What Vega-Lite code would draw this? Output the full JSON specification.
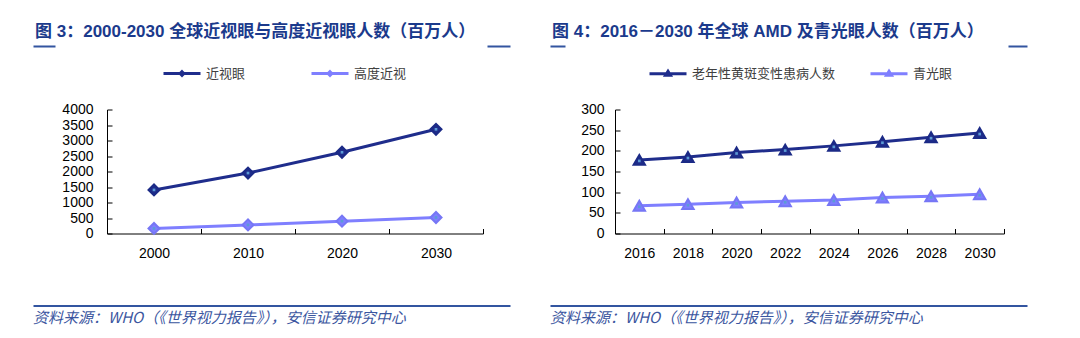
{
  "$schema": "https://vega.github.io/schema/vega-lite/v6.json",
  "padding": {"left": 33, "top": 22, "right": 0, "bottom": 0},
  "background": "white",
  "config": {
    "view": {"stroke": null},
    "axis": {"labelFont": "Liberation Sans", "labelFontSize": 14, "labelColor": "#000000", "domainColor": "#000000", "tickColor": "#000000", "domainWidth": 1, "tickWidth": 1, "grid": false, "title": null},
    "legend": {"labelFont": "Noto Sans CJK SC", "labelFontSize": 13, "labelColor": "#404040"}
  },
  "datasets": {
    "myopia": [
      {"year": "2000", "type": "近视眼", "value": 1406},
      {"year": "2010", "type": "近视眼", "value": 1950},
      {"year": "2020", "type": "近视眼", "value": 2620},
      {"year": "2030", "type": "近视眼", "value": 3361},
      {"year": "2000", "type": "高度近视", "value": 163},
      {"year": "2010", "type": "高度近视", "value": 277},
      {"year": "2020", "type": "高度近视", "value": 399},
      {"year": "2030", "type": "高度近视", "value": 517}
    ],
    "amd": [
      {"year": "2016", "type": "老年性黄斑变性患病人数", "value": 178},
      {"year": "2018", "type": "老年性黄斑变性患病人数", "value": 185},
      {"year": "2020", "type": "老年性黄斑变性患病人数", "value": 196},
      {"year": "2022", "type": "老年性黄斑变性患病人数", "value": 203},
      {"year": "2024", "type": "老年性黄斑变性患病人数", "value": 212},
      {"year": "2026", "type": "老年性黄斑变性患病人数", "value": 222},
      {"year": "2028", "type": "老年性黄斑变性患病人数", "value": 233},
      {"year": "2030", "type": "老年性黄斑变性患病人数", "value": 243},
      {"year": "2016", "type": "青光眼", "value": 67},
      {"year": "2018", "type": "青光眼", "value": 71},
      {"year": "2020", "type": "青光眼", "value": 75},
      {"year": "2022", "type": "青光眼", "value": 78},
      {"year": "2024", "type": "青光眼", "value": 81},
      {"year": "2026", "type": "青光眼", "value": 87},
      {"year": "2028", "type": "青光眼", "value": 90},
      {"year": "2030", "type": "青光眼", "value": 95}
    ],
    "footer": [{"a": 0}, {"a": 1}]
  },
  "resolve": {"scale": {"color": "independent", "x": "independent", "y": "independent"}, "legend": {"color": "independent"}},
  "spacing": 1.5,
  "vconcat": [
    {
      "spacing": -34,
      "resolve": {"scale": {"x": "independent"}},
      "hconcat": [
        {
          "width": 403,
          "height": 1,
          "data": {"name": "footer"},
          "mark": {"type": "text", "text": ""},
          "encoding": {"x": {"field": "a", "type": "quantitative", "scale": {"range": [-74, 403], "nice": false, "zero": false}, "axis": {"orient": "top", "domainColor": "#3355a0", "domainWidth": 2, "domainDash": [22, 432, 23, 200], "ticks": false, "labels": false, "title": null}}},
          "title": {"text": "图 3：2000-2030 全球近视眼与高度近视眼人数（百万人）", "anchor": "start", "frame": "bounds", "fontSize": 17, "fontWeight": "bold", "color": "#1b3a8c", "font": "Liberation Sans, Noto Sans CJK SC", "offset": 0, "dx": 2}
        },
        {
          "width": 413,
          "height": 1,
          "data": {"name": "footer"},
          "mark": {"type": "text", "text": ""},
          "encoding": {"x": {"field": "a", "type": "quantitative", "scale": {"range": [-64, 413], "nice": false, "zero": false}, "axis": {"orient": "top", "domainColor": "#3355a0", "domainWidth": 2, "domainDash": [15, 443, 19, 200], "ticks": false, "labels": false, "title": null}}},
          "title": {"text": "图 4：2016－2030 年全球 AMD 及青光眼人数（百万人）", "anchor": "start", "frame": "bounds", "fontSize": 17, "fontWeight": "bold", "color": "#1b3a8c", "font": "Liberation Sans, Noto Sans CJK SC", "offset": 0, "dx": 2}
        }
      ]
    },
    {
      "spacing": 39,
      "resolve": {"scale": {"color": "independent", "x": "independent", "y": "independent"}, "legend": {"color": "independent"}},
      "vconcat": [
        {
          "spacing": 67,
          "resolve": {"scale": {"color": "independent", "x": "independent", "y": "independent"}, "legend": {"color": "independent"}},
          "hconcat": [
            {
              "width": 376,
              "height": 124,
              "data": {"name": "myopia"},
              "encoding": {
                "x": {"field": "year", "type": "ordinal", "bandPosition": 0.5, "scale": {"type": "band", "paddingInner": 0, "paddingOuter": 0},
                  "axis": {"labelAngle": 0, "tickBand": "extent", "tickSize": -5, "labelPadding": 18}},
                "y": {"field": "value", "type": "quantitative", "scale": {"domain": [0, 4000], "nice": false},
                  "axis": {"values": [0, 500, 1000, 1500, 2000, 2500, 3000, 3500, 4000], "format": "d", "tickSize": -5, "labelPadding": 19, "minExtent": 74, "maxExtent": 74}},
                "color": {"field": "type", "type": "nominal", "sort": ["近视眼", "高度近视"],
                  "scale": {"domain": ["近视眼", "高度近视"], "range": ["#1f2d8c", "#7f7fff"]},
                  "legend": {"orient": "none", "legendX": 55, "legendY": -56, "direction": "horizontal", "title": null,
                    "symbolType": "M-1,0H1M0,-0.1L0.1,0L0,0.1L-0.1,0Z", "symbolSize": 1369, "symbolStrokeWidth": 3, "columnPadding": 59, "labelOffset": 4,
                    "encode": {"symbols": {"update": {"stroke": {"signal": "datum.value === '近视眼' ? '#1f2d8c' : '#7f7fff'"}, "fill": {"signal": "datum.value === '近视眼' ? '#1f2d8c' : '#7f7fff'"}, "opacity": {"value": 1}}}}}}
              },
              "layer": [
                {"mark": {"type": "line", "strokeWidth": 3}},
                {"mark": {"type": "point", "shape": "diamond", "filled": true, "size": 121, "strokeWidth": 2, "opacity": 1}, "encoding": {"stroke": {"field": "type", "type": "nominal", "scale": {"domain": ["近视眼", "高度近视"], "range": ["#1b2a86", "#7676f5"]}, "legend": null}}},
                {"mark": {"type": "square", "size": 7, "opacity": 1}, "encoding": {"color": {"value": "#5b9bd5"}}}
              ]
            },
            {
              "width": 389,
              "height": 124,
              "data": {"name": "amd"},
              "encoding": {
                "x": {"field": "year", "type": "ordinal", "bandPosition": 0.5, "scale": {"type": "band", "paddingInner": 0, "paddingOuter": 0},
                  "axis": {"labelAngle": 0, "tickBand": "extent", "tickSize": -5, "labelPadding": 18}},
                "y": {"field": "value", "type": "quantitative", "scale": {"domain": [0, 300], "nice": false},
                  "axis": {"values": [0, 50, 100, 150, 200, 250, 300], "format": "d", "tickSize": -5, "labelPadding": 16, "minExtent": 64, "maxExtent": 64}},
                "color": {"field": "type", "type": "nominal",
                  "scale": {"domain": ["老年性黄斑变性患病人数", "青光眼"], "range": ["#1f2d8c", "#7f7fff"]},
                  "legend": {"orient": "none", "legendX": 33, "legendY": -56, "direction": "horizontal", "title": null,
                    "symbolType": "M-1,0H1M0,-0.14L0.13,0.07L-0.13,0.07Z", "symbolSize": 1369, "symbolStrokeWidth": 3, "columnPadding": 28, "labelOffset": 4,
                    "encode": {"symbols": {"update": {"stroke": {"signal": "datum.value === '青光眼' ? '#7f7fff' : '#1f2d8c'"}, "fill": {"signal": "datum.value === '青光眼' ? '#7f7fff' : '#1f2d8c'"}, "opacity": {"value": 1}}}}}}
              },
              "layer": [
                {"mark": {"type": "line", "strokeWidth": 3}},
                {"mark": {"type": "point", "shape": "triangle-up", "filled": true, "size": 130, "strokeWidth": 2, "opacity": 1}, "encoding": {"stroke": {"field": "type", "type": "nominal", "scale": {"domain": ["老年性黄斑变性患病人数", "青光眼"], "range": ["#1b2a86", "#7676f5"]}, "legend": null}}},
                {"mark": {"type": "square", "size": 7, "opacity": 1, "yOffset": 1}, "encoding": {"color": {"value": "#5b9bd5"}}}
              ]
            }
          ]
        },
        {
          "spacing": -34,
          "resolve": {"scale": {"x": "independent"}},
          "hconcat": [
            {
              "width": 403,
              "height": 1,
              "data": {"name": "footer"},
              "mark": {"type": "text", "text": ""},
              "encoding": {"x": {"field": "a", "type": "quantitative", "scale": {"range": [-74, 403], "nice": false, "zero": false}, "axis": {"orient": "top", "domainColor": "#3355a0", "domainWidth": 2, "ticks": false, "labels": false, "title": null}}},
              "title": {"text": "资料来源：WHO（《世界视力报告》），安信证券研究中心", "orient": "bottom", "anchor": "start", "frame": "bounds", "fontSize": 15, "fontStyle": "italic", "fontWeight": "normal", "color": "#3b56a0", "font": "Noto Sans CJK SC", "offset": 0}
            },
            {
              "width": 413,
              "height": 1,
              "data": {"name": "footer"},
              "mark": {"type": "text", "text": ""},
              "encoding": {"x": {"field": "a", "type": "quantitative", "scale": {"range": [-64, 413], "nice": false, "zero": false}, "axis": {"orient": "top", "domainColor": "#3355a0", "domainWidth": 2, "ticks": false, "labels": false, "title": null}}},
              "title": {"text": "资料来源：WHO（《世界视力报告》），安信证券研究中心", "orient": "bottom", "anchor": "start", "frame": "bounds", "fontSize": 15, "fontStyle": "italic", "fontWeight": "normal", "color": "#3b56a0", "font": "Noto Sans CJK SC", "offset": 0}
            }
          ]
        }
      ]
    }
  ]
}
